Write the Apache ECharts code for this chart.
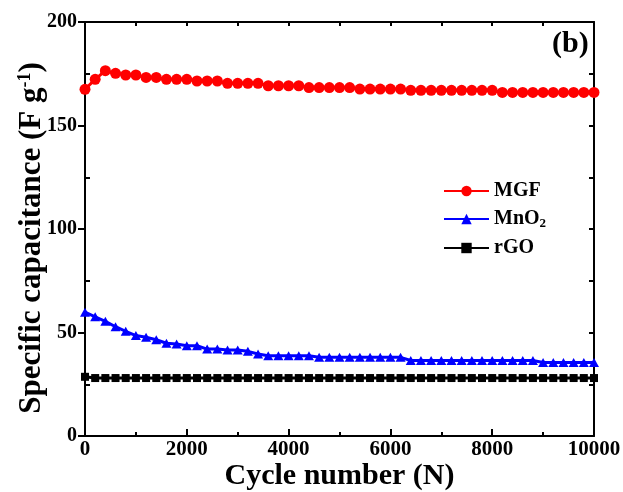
<!DOCTYPE html>
<html><head><meta charset="utf-8">
<script src="https://cdn.jsdelivr.net/npm/echarts@6/dist/echarts.min.js"></script>
<style>html,body{margin:0;padding:0;background:#fff}#c{width:623px;height:492px}</style>
</head><body><div id="c"></div>
<script>
const cycles = [0,200,400,600,800,1000,1200,1400,1600,1800,2000,2200,2400,2600,2800,3000,3200,3400,3600,3800,4000,4200,4400,4600,4800,5000,5200,5400,5600,5800,6000,6200,6400,6600,6800,7000,7200,7400,7600,7800,8000,8200,8400,8600,8800,9000,9200,9400,9600,9800,10000];
const mgf = [167.5,172.3,176.5,175.2,174.4,174.4,173.2,173.2,172.3,172.3,172.3,171.5,171.5,171.5,170.4,170.4,170.4,170.4,169.2,169.2,169.2,169.2,168.3,168.3,168.3,168.3,168.3,167.6,167.6,167.6,167.6,167.6,167,167,167,167,167,167,167,167,167,166,166,166,166,166,166,166,166,166,166];
const mno2 = [59.8,57.6,55.4,52.8,50.6,48.5,47.7,46.5,44.8,44.4,43.6,43.6,42,42,41.5,41.5,40.9,39.6,38.8,38.8,38.8,38.8,38.8,38,38,38,38,38,38,38,38,38,36.5,36.5,36.5,36.5,36.5,36.5,36.5,36.5,36.5,36.5,36.5,36.5,36.5,35.5,35.5,35.5,35.5,35.5,35.5];
const rgo = [28.6,28,28,28,28,28,28,28,28,28,28,28,28,28,28,28,28,28,28,28,28,28,28,28,28,28,28,28,28,28,28,28,28,28,28,28,28,28,28,28,28,28,28,28,28,28,28,28,28,28,28];
const seriesNames = ['MGF','MnO2','rGO'];
const yMinorTickLabels = ['0','25','50','75','100','125','150','175','200'];
const xTitle = 'Cycle number (N)';

const pair = arr => cycles.map((c,i)=>[c,arr[i]]);
const FONT = '"Liberation Serif","Times New Roman",serif';
const chart = echarts.init(document.getElementById('c'));
const axisLine = {show:true, onZero:false, lineStyle:{color:'#000', width:2}};
const noLine = {show:false, onZero:false};
const tickStyle = {color:'#000', width:2};
chart.setOption({
  animation:false,
  grid:{left:85, right:29, top:22, bottom:56, containLabel:false, outerBoundsMode:'none'},
  legend:{
    orient:'vertical', left:443, top:181, padding:0, itemWidth:45, itemHeight:13, itemGap:8,
    data: seriesNames,
    formatter: n => n==='MnO2' ? '{a|MnO}{sub|2}' : '{a|'+n+'}',
    textStyle:{fontFamily:FONT, fontWeight:'bold', fontSize:20, color:'#000',
      rich:{a:{fontFamily:FONT, fontWeight:'bold', fontSize:20, color:'#000'},
            sub:{fontFamily:FONT, fontWeight:'bold', fontSize:13, color:'#000', verticalAlign:'bottom', padding:[9,0,0,0]}}}
  },
  xAxis:[{
    type:'value', min:0, max:10000, interval:2000,
    name:xTitle, nameLocation:'middle', nameGap:25, nameMoveOverlap:false,
    nameTextStyle:{fontFamily:FONT, fontWeight:'bold', fontSize:30, color:'#000'},
    axisLine:axisLine,
    axisTick:{inside:true, length:7, lineStyle:tickStyle},
    axisLabel:{fontFamily:FONT, fontWeight:'bold', fontSize:21, color:'#000', margin:3, formatter: v => String(v)},
    splitLine:{show:false}
  },{
    type:'value', min:0, max:10000, interval:1000, position:'bottom',
    axisLine:noLine,
    axisTick:{inside:true, length:4, lineStyle:tickStyle},
    axisLabel:{show:false}, splitLine:{show:false}
  },{
    type:'value', min:0, max:10000, interval:1000, position:'top',
    axisLine:axisLine,
    axisTick:{inside:true, length:4, lineStyle:tickStyle},
    axisLabel:{show:false}, splitLine:{show:false}
  }],
  yAxis:[{
    type:'value', min:0, max:200, interval:50,
    name:'{a|Specific capacitance (F g}{sup|-1}{a|)}', nameLocation:'middle', nameGap:37, nameMoveOverlap:false,
    nameTextStyle:{padding:[0,18,0,0], rich:{
      a:{fontFamily:FONT, fontWeight:'bold', fontSize:31, color:'#000'},
      sup:{fontFamily:FONT, fontWeight:'bold', fontSize:18, color:'#000', verticalAlign:'top', padding:[0,0,14,0]}}},
    axisLine:axisLine,
    axisTick:{inside:false, length:7, lineStyle:tickStyle},
    axisLabel:{fontFamily:FONT, fontWeight:'bold', fontSize:20, color:'#000', margin:8},
    splitLine:{show:false}
  },{
    type:'category', data:yMinorTickLabels, boundaryGap:false, position:'left',
    axisLine:noLine,
    axisTick:{inside:true, length:5, interval:(i)=> i%2===1, lineStyle:tickStyle},
    axisLabel:{show:false}, splitLine:{show:false}
  },{
    type:'value', min:0, max:200, interval:25, position:'right',
    axisLine:axisLine,
    axisTick:{inside:true, length:5, lineStyle:tickStyle},
    axisLabel:{show:false}, splitLine:{show:false}
  }],
  series:[
    {name:'MGF', type:'line', data:pair(mgf), symbol:'circle', symbolSize:11, showAllSymbol:true,
     itemStyle:{color:'#ff0000'}, lineStyle:{color:'#ff0000', width:3}},
    {name:'MnO2', type:'line', data:pair(mno2), symbol:'triangle', symbolSize:[10,9], showAllSymbol:true,
     itemStyle:{color:'#0000ff'}, lineStyle:{color:'#0000ff', width:3}},
    {name:'rGO', type:'line', data:pair(rgo), symbol:'rect', symbolSize:8, showAllSymbol:true,
     itemStyle:{color:'#000'}, lineStyle:{color:'#000', width:3}}
  ],
  graphic:[{type:'text', left:552, top:29, style:{text:'(b)', fontFamily:FONT, fontWeight:'bold', fontSize:30, fill:'#000'}}]
});
</script></body></html>
